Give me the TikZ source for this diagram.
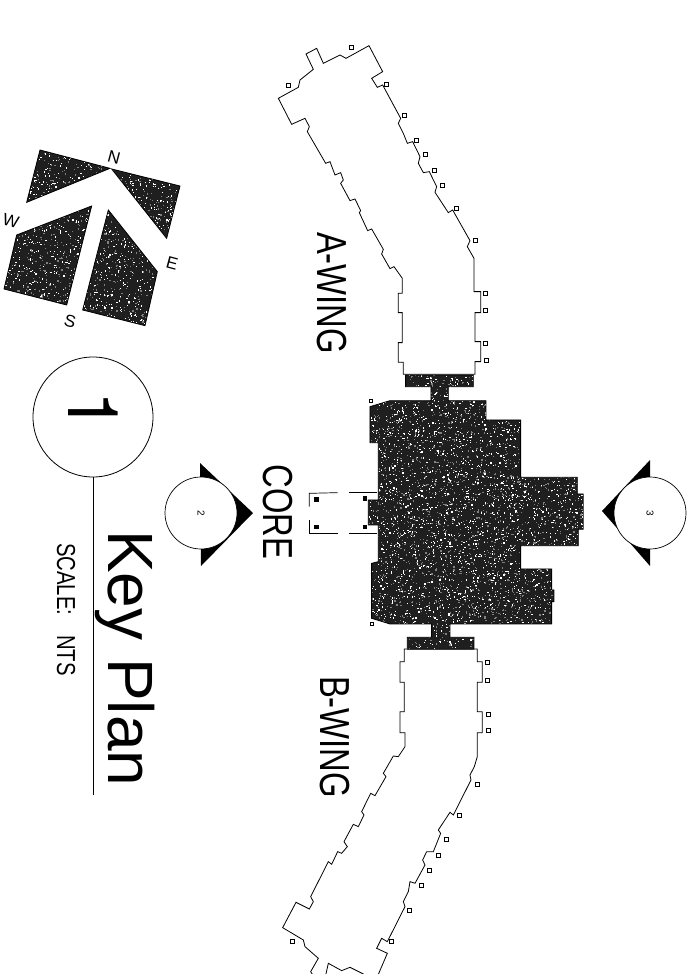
\documentclass[tikz,border=0pt]{standalone}
\usepackage{fontspec}
\setmainfont{Liberation Sans}
\newfontfamily\narrowfont[FakeStretch=0.78]{Liberation Sans}
\newfontfamily\digitfont{TeX Gyre Heros}

% fill a closed path with black and scatter scan noise over it
\newcommand{\speckled}[6]{%
  \begin{scope}
    \clip #1;
    \fill[black!88] (#2,#3) rectangle ++(#4,#5);
    \foreach \i in {1,...,#6} {
      \ifodd\i\def\dotcol{white}\else\def\dotcol{gray}\fi
      \fill[\dotcol] ({#2+rnd*#4},{#3+rnd*#5}) rectangle ++(3.6,3.6);
    }
  \end{scope}
  \draw[thick] #1;
}

\begin{document}
\begin{tikzpicture}[
    x=1pt, y=-1pt,
    outline/.style={line width=0.8pt, draw=black, fill=white},
    window/.style={rectangle, draw, line width=0.7pt, fill=white, minimum size=4pt, inner sep=0pt},
    column/.style={rectangle, fill=black, minimum size=4.5pt, inner sep=0pt},
    wingtext/.style={rotate=-90, font=\narrowfont\fontsize{42}{42}\selectfont},
    bubble/.style={circle, draw, line width=0.7pt, fill=white, minimum size=72pt, inner sep=0pt, rotate=-90, font=\fontsize{10}{10}\selectfont},
    pointer/.style={fill=black},
    compass/.style={rotate=-15, font=\fontsize{17}{17}\selectfont}
]
\useasboundingbox (0,0) rectangle (693,974);
\clip (0,0) rectangle (693,974);
\pgfmathsetseed{41}

% compass
\begin{scope}[shift={(0,130)}, scale=0.3333]
  \speckled{(120,60) -- (330,115) -- (80,217) -- cycle}{80}{60}{250}{157}{320}
  \speckled{(335,117) -- (540,168) -- (500,325) -- cycle}{335}{117}{205}{208}{340}
  \speckled{(275,228) -- (200,525) -- (12,477) -- (50,315) -- cycle}{12}{228}{263}{297}{620}
  \speckled{(325,240) -- (472,425) -- (435,587) -- (248,540) -- cycle}{248}{240}{224}{347}{620}
\end{scope}
\node[compass] (north) at (114,157) {N};
\node[compass] (west) at (11,221) {W};
\node[compass] (east) at (172,263) {E};
\node[compass] (south) at (70,321) {S};

% plan title
\node[circle, draw, line width=0.8pt, minimum size=120pt, inner sep=0pt] (one) at (93,417) {};
\node[rotate=-90, inner sep=0pt, font=\digitfont\fontsize{70}{70}\selectfont] (digit) at (93,411) {1};
\coordinate (ruleend) at (93,795);
\draw[line width=0.8pt] (one.south) -- (ruleend);
\node[rotate=-90, anchor=base west, inner sep=0pt, font=\fontsize{64}{64}\selectfont] (keyplan) at (108,530) {Key Plan};
\node[rotate=-90, anchor=base west, inner sep=0pt, font=\narrowfont\fontsize{26}{26}\selectfont] (scale) at (57,543) {SCALE:\hspace{20pt}NTS};

% view markers
\fill[pointer] (200,463) -- (253,513) -- (201,566) -- cycle;
\node[bubble] (two) at (201,513) {2};
\fill[pointer] (650,460) -- (602,511) -- (650,566) -- cycle;
\node[bubble] (three) at (650,513) {3};

% wing A
\begin{scope}[shift={(270,30)}, scale=0.3333]
  \draw[outline] (400,1033) -- (400,997) -- (385,997) -- (385,938) -- (397,938) -- (397,848)
    -- (385,848) -- (385,790) -- (397,790) -- (397,745) -- (372,710) -- (360,716) -- (335,672)
    -- (340,658) -- (305,597) -- (293,602) -- (268,548) -- (272,542) -- (255,507) -- (240,512)
    -- (212,460) -- (220,450) -- (212,428) -- (195,435) -- (180,395) -- (167,400) -- (112,305)
    -- (118,290) -- (105,265) -- (65,283) -- (25,205) -- (85,172) -- (90,150) -- (130,118)
    -- (108,72) -- (140,55) -- (160,100) -- (200,80) -- (210,75) -- (228,85) -- (297,47)
    -- (338,125) -- (305,145) -- (322,172) -- (338,165) -- (392,265) -- (385,280) -- (400,310)
    -- (412,340) -- (428,335) -- (450,380) -- (445,400) -- (460,428) -- (478,425) -- (500,470)
    -- (495,487) -- (535,548) -- (548,540) -- (600,632) -- (592,650) -- (612,685) -- (612,785)
    -- (632,785) -- (632,848) -- (615,848) -- (615,935) -- (632,935) -- (632,995) -- (615,995)
    -- (615,1033) -- cycle;
  \foreach \wx/\wy in {245/53, 55/165, 348/162, 404/255, 440/330, 467/373, 493/420, 518/465,
                       560/535, 615/630, 647/790, 647/840, 647/940, 648/992} {
    \node[window] at (\wx,\wy) {};
  }
\end{scope}
\node[wingtext] (awing) at (332,293) {A-WING};

% wing B
\begin{scope}[shift={(270,630)}, scale=0.3333]
  \draw[outline] (403,57) -- (403,95) -- (390,95) -- (390,157) -- (403,157) -- (403,245)
    -- (390,245) -- (390,308) -- (405,308) -- (405,350) -- (385,380) -- (370,378) -- (340,430)
    -- (348,440) -- (315,497) -- (302,490) -- (275,545) -- (282,555) -- (265,590) -- (250,583)
    -- (222,635) -- (232,650) -- (215,670) -- (203,665) -- (185,703) -- (175,695) -- (122,800)
    -- (130,815) -- (118,837) -- (78,817) -- (38,893) -- (100,930) -- (105,950) -- (145,985)
    -- (122,1025) -- (135,1045) -- (165,1045) -- (175,1000) -- (215,1022) -- (240,1012)
    -- (280,1032) -- (300,1045) -- (320,1045) -- (352,970) -- (320,955) -- (335,925) -- (352,935)
    -- (405,830) -- (400,815) -- (415,785) -- (420,755) -- (435,760) -- (465,705) -- (458,690)
    -- (470,665) -- (490,665) -- (512,610) -- (505,600) -- (540,547) -- (550,555) -- (603,450)
    -- (600,435) -- (613,410) -- (622,380) -- (622,308) -- (637,308) -- (637,245) -- (622,245)
    -- (622,157) -- (637,157) -- (637,95) -- (622,95) -- (622,57) -- cycle;
  \foreach \wx/\wy in {652/97, 652/151, 654/252, 654/302, 623/462, 569/557, 529/628, 504/675,
                       478/720, 453/765, 418/840, 365/935, 66/933} {
    \node[window] at (\wx,\wy) {};
  }
\end{scope}
\node[wingtext] (bwing) at (335,737) {B-WING};

% core
\node[wingtext] (core) at (278,512) {CORE};
\begin{scope}[shift={(150,370)}, scale=0.3333]
  \speckled{(767,15) -- (970,15) -- (970,50) -- (895,50) -- (895,92) -- (1008,92) -- (1008,150)
    -- (1112,150) -- (1112,322) -- (1282,322) -- (1282,372) -- (1300,372) -- (1300,478)
    -- (1285,478) -- (1285,527) -- (1112,527) -- (1112,597) -- (1205,597) -- (1205,660)
    -- (1212,660) -- (1212,695) -- (1205,695) -- (1205,762) -- (900,762) -- (900,802)
    -- (972,802) -- (972,838) -- (772,838) -- (772,802) -- (845,802) -- (845,762) -- (720,762)
    -- (665,745) -- (665,580) -- (685,575) -- (685,465) -- (655,465) -- (655,390) -- (685,390)
    -- (685,218) -- (660,218) -- (660,110) -- (720,92) -- (843,92) -- (843,50) -- (767,50)
    -- cycle}{655}{15}{645}{823}{4800}
  % porch
  \draw[line width=0.7pt] (563,368) -- (478,370) -- (478,410);
  \draw[line width=0.7pt] (598,368) -- (680,368);
  \draw[line width=0.7pt] (478,450) -- (478,490) -- (563,490);
  \draw[line width=0.7pt] (598,490) -- (680,490);
  \foreach \cx/\cy in {499/388, 499/471, 645/385, 645/471} {
    \node[column] at (\cx,\cy) {};
  }
  \node[window, minimum size=3pt] at (662,94) {};
  \node[window, minimum size=3pt] at (666,762) {};
\end{scope}

\end{tikzpicture}
\end{document}
